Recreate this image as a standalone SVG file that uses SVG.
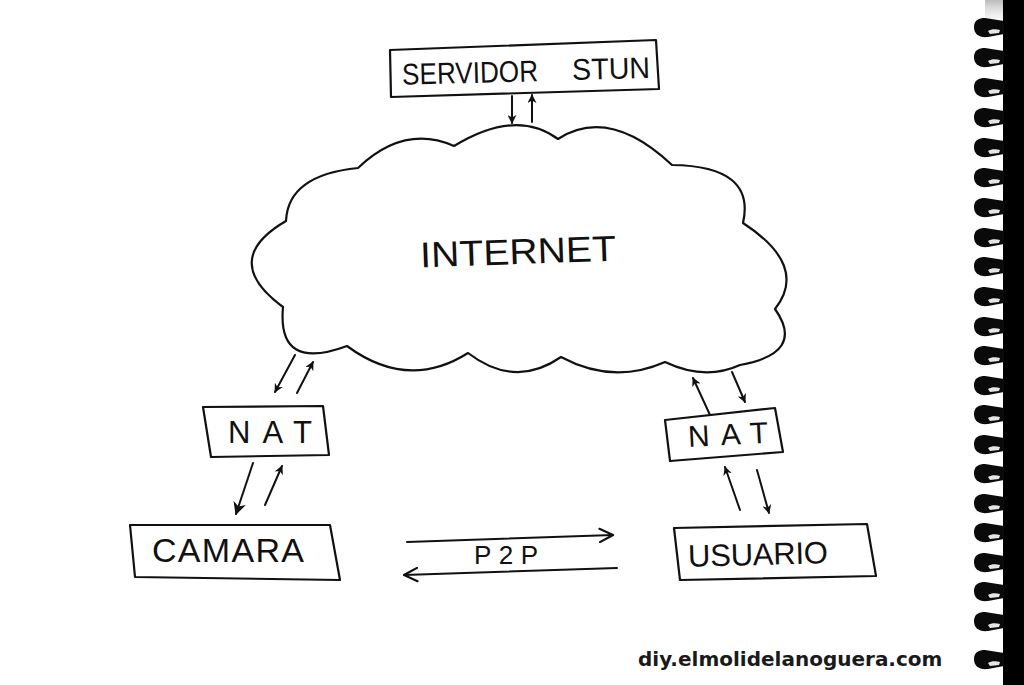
<svg xmlns="http://www.w3.org/2000/svg" xmlns:xlink="http://www.w3.org/1999/xlink" width="1024" height="685" viewBox="0 0 1024 685">
<style>
.box{fill:none;stroke:#111;stroke-width:2.2;stroke-linejoin:round;stroke-linecap:round}
.hand{font-family:"Liberation Sans","DejaVu Sans",sans-serif;fill:#111;font-weight:normal}
.ln{fill:none;stroke:#111;stroke-width:2;stroke-linecap:round}
.cloud{fill:#fff;stroke:#111;stroke-width:2.2;stroke-linejoin:round}
.foot{font-family:"DejaVu Sans",sans-serif;font-weight:bold;font-size:20px;fill:#1a1a1a}
</style>
<defs>
<marker id="ah" viewBox="0 0 10 10" refX="9" refY="5" markerWidth="9" markerHeight="9" markerUnits="userSpaceOnUse" orient="auto">
<path d="M0,0 L10,5 L0,10 L3,5 Z" fill="#111"/>
</marker>
<marker id="ahBig" viewBox="0 0 10 10" refX="9" refY="5" markerWidth="13" markerHeight="13" markerUnits="userSpaceOnUse" orient="auto">
<path d="M0,0 L10,5 L0,10 L3,5 Z" fill="#111"/>
</marker>
<marker id="chev" viewBox="0 0 12 12" refX="11" refY="6" markerWidth="16" markerHeight="16" markerUnits="userSpaceOnUse" orient="auto">
<path d="M1,1 L11,6 L1,11" fill="none" stroke="#111" stroke-width="1.6" stroke-linecap="round"/>
</marker>
<linearGradient id="edge" x1="0" y1="0" x2="0" y2="1">
<stop offset="0" stop-color="#bbb"/>
<stop offset="1" stop-color="#fff" stop-opacity="0"/>
</linearGradient>
<g id="hook">
<path d="M974,-1 C974,-8 979,-10 985,-10 L1004,-7 L1004,6 L988,9 C979,10 974,6 974,-1 Z" fill="#0a0a0a"/>
<path d="M988,3 C991,1 996,1 1000,2 L999,5 L990,6 Z" fill="#e6e6e6"/>
</g>
</defs>
<rect width="1024" height="685" fill="#fff"/>

<g id="binding">
<rect x="985" y="0" width="20" height="30" fill="url(#edge)"/>
<rect x="1003" y="0" width="21" height="685" fill="#000"/>
<use xlink:href="#hook" href="#hook" transform="translate(0,28)"/>
<use xlink:href="#hook" href="#hook" transform="translate(0,58)"/>
<use xlink:href="#hook" href="#hook" transform="translate(0,88)"/>
<use xlink:href="#hook" href="#hook" transform="translate(0,118)"/>
<use xlink:href="#hook" href="#hook" transform="translate(0,148)"/>
<use xlink:href="#hook" href="#hook" transform="translate(0,178)"/>
<use xlink:href="#hook" href="#hook" transform="translate(0,208)"/>
<use xlink:href="#hook" href="#hook" transform="translate(0,238)"/>
<use xlink:href="#hook" href="#hook" transform="translate(0,267)"/>
<use xlink:href="#hook" href="#hook" transform="translate(0,297)"/>
<use xlink:href="#hook" href="#hook" transform="translate(0,327)"/>
<use xlink:href="#hook" href="#hook" transform="translate(0,356)"/>
<use xlink:href="#hook" href="#hook" transform="translate(0,386)"/>
<use xlink:href="#hook" href="#hook" transform="translate(0,415)"/>
<use xlink:href="#hook" href="#hook" transform="translate(0,445)"/>
<use xlink:href="#hook" href="#hook" transform="translate(0,474)"/>
<use xlink:href="#hook" href="#hook" transform="translate(0,504)"/>
<use xlink:href="#hook" href="#hook" transform="translate(0,533)"/>
<use xlink:href="#hook" href="#hook" transform="translate(0,563)"/>
<use xlink:href="#hook" href="#hook" transform="translate(0,592)"/>
<use xlink:href="#hook" href="#hook" transform="translate(0,622)"/>
<use xlink:href="#hook" href="#hook" transform="translate(0,660)"/>
</g>

<g id="internet">
<path class="cloud" d="M286,221 Q288,175 358,168 Q404,124 454,146 Q516,108 558,139 Q609,106 672,165 Q756,166 743,223 Q809,266 775,309 Q806,353 740,365 Q705,381 665,362 Q613,385 561,357 Q515,389 468,353 Q408,391 347,346 Q277,372 283,307 Q219,260 286,221 Z"/>
<text class="hand" x="420" y="264" font-size="36" textLength="196" lengthAdjust="spacingAndGlyphs" transform="rotate(-2 518 250)">INTERNET</text>
</g>

<g id="stun">
<path class="box" d="M390,50 L656,40 L659,89 L391,97 Z"/>
<text class="hand" x="402" y="83" font-size="30" textLength="136" lengthAdjust="spacingAndGlyphs" transform="rotate(-1.5 470 72)">SERVIDOR</text>
<text class="hand" x="572" y="79" font-size="30" textLength="78" lengthAdjust="spacingAndGlyphs" transform="rotate(-1.5 611 68)">STUN</text>
</g>

<g id="nat-left">
<path class="box" d="M203,407 L323,406 L329,455 L211,457 Z"/>
<text class="hand" x="228" y="443" font-size="31" textLength="84" lengthAdjust="spacing">NAT</text>
</g>

<g id="camara">
<path class="box" d="M130,525 L330,525 L340,580 L135,577 Z"/>
<text class="hand" x="152" y="562" font-size="34" textLength="152" lengthAdjust="spacing">CAMARA</text>
</g>

<g id="nat-right">
<path class="box" d="M665,420 L775,408 L783,452 L670,461 Z"/>
<text class="hand" x="688" y="445" font-size="30" textLength="80" lengthAdjust="spacing" transform="rotate(-3 728 435)">NAT</text>
</g>

<g id="usuario">
<path class="box" d="M674,528 L867,524 L876,576 L680,580 Z"/>
<text class="hand" x="688" y="565" font-size="31" textLength="140" lengthAdjust="spacing" transform="rotate(-1.5 758 555)">USUARIO</text>
</g>

<g id="connectors">
<line class="ln" x1="512" y1="96" x2="512" y2="123" marker-end="url(#ah)"/>
<line class="ln" x1="532" y1="122" x2="532" y2="95" marker-end="url(#ah)"/>
<line class="ln" x1="295" y1="355" x2="275" y2="392" marker-end="url(#ah)"/>
<line class="ln" x1="297" y1="393" x2="313" y2="362" marker-end="url(#ah)"/>
<line class="ln" x1="253" y1="463" x2="236" y2="514" stroke-width="3.4" marker-end="url(#ahBig)"/>
<line class="ln" x1="265" y1="505" x2="282" y2="466" marker-end="url(#ah)"/>
<line class="ln" x1="710" y1="415" x2="693" y2="378" marker-end="url(#ah)"/>
<line class="ln" x1="732" y1="372" x2="745" y2="402" marker-end="url(#ah)"/>
<line class="ln" x1="740" y1="510" x2="725" y2="467" marker-end="url(#ah)"/>
<line class="ln" x1="757" y1="470" x2="769" y2="513" marker-end="url(#ah)"/>
<line class="ln" x1="407" y1="542" x2="613" y2="535" marker-end="url(#chev)"/>
<line class="ln" x1="617" y1="568" x2="404" y2="575" marker-end="url(#chev)"/>
<text class="hand" x="474" y="564" font-size="26" textLength="64" lengthAdjust="spacing">P2P</text>
</g>

<text class="foot" x="638" y="666">diy.elmolidelanoguera.com</text>
</svg>
